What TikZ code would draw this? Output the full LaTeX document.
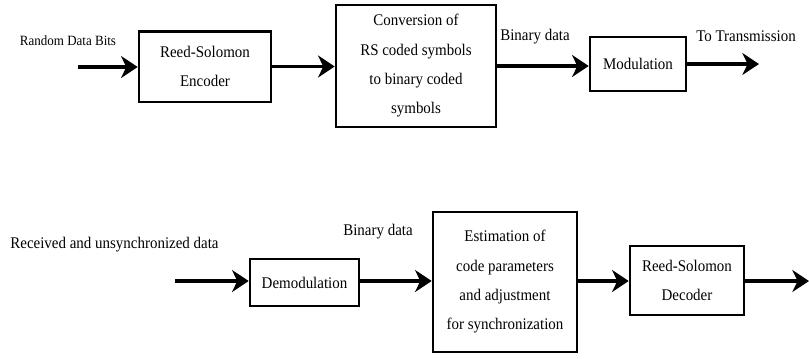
\documentclass[tikz,border=0pt]{standalone}
\usepackage{fontspec}
\setmainfont{Liberation Serif}[FakeStretch=0.92]
\usetikzlibrary{arrows.meta}

\tikzset{every picture/.style={line width=0.75pt}}
\tikzset{
	blk/.style={draw, line width=2pt, align=center, inner sep=0pt, font=\fontsize{12.2}{22}\selectfont},
	lbl/.style={inner sep=0.75pt, font=\fontsize{12.2}{14}\selectfont},
	arr/.style={line width=2.3pt, -{Stealth[length=12.5pt,width=16.5pt,inset=4pt]}}
}

\begin{document}
\begin{tikzpicture}[x=0.75pt,y=0.75pt,yscale=-1,xscale=1]
				\useasboundingbox (0,0) rectangle (809,358);
				% Transmitter chain
				\node [blk, minimum width=99pt, minimum height=53pt] (enc) at (205,66.5) {Reed-Solomon\\Encoder};
				\node [blk, minimum width=120pt, minimum height=91.5pt] (conv) at (416,66) {Conversion of\\RS coded symbols\\to binary coded\\symbols};
				\node [blk, minimum width=72pt, minimum height=40.5pt] (mod) at (638,64) {Modulation};
				\coordinate (in1) at (78,67);
				\coordinate (out1) at (759,64);
				
				% Text Node
				\node [lbl, font=\fontsize{10.6}{12}\selectfont] (rdb) at (68,41) {Random Data Bits};
				% Text Node
				\node [lbl] (bd1) at (535,37) {Binary data};
				% Text Node
				\node [lbl] (tt) at (746,36) {To Transmission};
				
				\draw [arr] (in1) -- (in1 -| enc.west);
				\draw [arr] (enc.east) -- (enc.east -| conv.west);
				\draw [arr] (conv.east) -- (conv.east -| mod.west);
				\draw [arr] (mod.east) -- (out1);
				
				% Receiver chain
				\node [blk, minimum width=81.75pt, minimum height=35.25pt] (demod) at (304.5,282.5) {Demodulation};
				\node [blk, minimum width=108pt, minimum height=105pt] (est) at (505,282) {Estimation of\\code parameters\\and adjustment\\for synchronization};
				\node [blk, minimum width=85.5pt, minimum height=51.75pt] (dec) at (687,280.5) {Reed-Solomon\\Decoder};
				\coordinate (in2) at (175,281);
				\coordinate (out2) at (809,281);
				
				% Text Node
				\node [lbl] (rud) at (114.5,245) {Received and unsynchronized data};
				% Text Node
				\node [lbl] (bd2) at (378,232) {Binary data};
				
				\draw [arr] (in2) -- (in2 -| demod.west);
				\draw [arr] (demod.east |- in2) -- (in2 -| est.west);
				\draw [arr] (est.east |- in2) -- (in2 -| dec.west);
				\draw [arr] (dec.east |- in2) -- (out2);
			\end{tikzpicture}
\end{document}
